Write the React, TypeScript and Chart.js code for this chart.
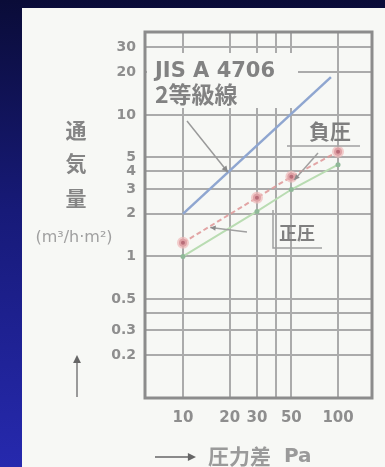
import React, { useEffect, useRef } from "react";
import { Chart, registerables } from "chart.js";

Chart.register(...registerables);

// Pressure difference (Pa) ticks and labels
const xTicks = [10, 20, 30, 40, 50, 100];
const xLabels = ["10", "20", "30", "", "50", "100"];
// Air flow rate ticks and labels
const yTicks = [0.2, 0.3, 0.4, 0.5, 1, 2, 3, 4, 5, 10, 20, 30];
const yLabels = ["0.2", "0.3", "", "0.5", "1", "2", "3", "4", "5", "10", "20", "30"];

// JIS A 4706 grade-2 line
const gradePressure = [10, 90];
const gradeFlow = [2, 18.5];
// Measured: negative pressure (負圧)
const negPressure = [10, 30, 50, 100];
const negFlow = [1.25, 2.6, 3.66, 5.5];
// Measured: positive pressure (正圧)
const posPressure = [10, 30, 50, 100];
const posFlow = [1.0, 2.08, 2.97, 4.45];

const PANEL = "#f7f8f5";
const GRID = "#ababab";
const TEXT = "#8e8e8e";

function arrowHead(ctx: CanvasRenderingContext2D, x1: number, y1: number, x2: number, y2: number, size: number) {
  const a = Math.atan2(y2 - y1, x2 - x1);
  ctx.beginPath();
  ctx.moveTo(x2, y2);
  ctx.lineTo(x2 - size * Math.cos(a - 0.45), y2 - size * Math.sin(a - 0.45));
  ctx.lineTo(x2 - size * Math.cos(a + 0.45), y2 - size * Math.sin(a + 0.45));
  ctx.closePath();
  ctx.fill();
}

const decor = {
  id: "decor",
  beforeDatasetsDraw(chart: any) {
    const ctx = chart.ctx as CanvasRenderingContext2D;
    ctx.save();
    ctx.fillStyle = PANEL;
    ctx.fillRect(147, 53, 151, 55);
    ctx.restore();
  },
  afterDatasetsDraw(chart: any) {
    const ctx = chart.ctx as CanvasRenderingContext2D;
    const xs = chart.scales.x;
    const ys = chart.scales.y;
    const { left, top, right, bottom } = chart.chartArea;
    ctx.save();
    // frame
    ctx.strokeStyle = "#8c8c8c";
    ctx.lineWidth = 3;
    ctx.strokeRect(left, top, right - left, bottom - top);

    // label box text
    ctx.fillStyle = "#828282";
    ctx.textBaseline = "alphabetic";
    ctx.textAlign = "left";
    ctx.font = "bold 21px 'DejaVu Sans', sans-serif";
    ctx.fillText("JIS A 4706", 155, 77);
    ctx.font = "bold 23px 'Noto Sans CJK JP', sans-serif";
    ctx.fillText("2等級線", 155, 103);

    // leader to grade line
    const lp = 19.5;
    const slope = Math.log(gradeFlow[1] / gradeFlow[0]) / Math.log(gradePressure[1] / gradePressure[0]);
    const lv = gradeFlow[0] * Math.pow(lp / gradePressure[0], slope);
    const ex = xs.getPixelForValue(lp);
    const ey = ys.getPixelForValue(lv);
    ctx.strokeStyle = "#9a9a9a";
    ctx.fillStyle = "#8a8a8a";
    ctx.lineWidth = 1.5;
    ctx.beginPath();
    ctx.moveTo(187, 121);
    ctx.lineTo(ex, ey);
    ctx.stroke();
    arrowHead(ctx, 187, 121, ex, ey, 7);

    // 負圧 label
    ctx.fillStyle = "#7f7f7f";
    ctx.font = "bold 21px 'Noto Sans CJK JP', sans-serif";
    ctx.textAlign = "center";
    ctx.textBaseline = "middle";
    ctx.fillText("負圧", 330, 131);
    ctx.strokeStyle = "#a0a0a0";
    ctx.beginPath();
    ctx.moveTo(287, 146);
    ctx.lineTo(360, 146);
    ctx.stroke();
    const nx = xs.getPixelForValue(45);
    const ny = ys.getPixelForValue(3.3);
    ctx.beginPath();
    ctx.moveTo(318, 153);
    ctx.lineTo(nx + 10, ny - 3);
    ctx.stroke();
    ctx.fillStyle = "#8a8a8a";
    arrowHead(ctx, 318, 153, nx + 10, ny - 3, 6);

    // 正圧 label
    ctx.fillStyle = "#7f7f7f";
    ctx.font = "bold 18px 'Noto Sans CJK JP', sans-serif";
    ctx.fillText("正圧", 297, 233);
    ctx.strokeStyle = "#a0a0a0";
    ctx.beginPath();
    ctx.moveTo(273, 210);
    ctx.lineTo(273, 248);
    ctx.lineTo(322, 248);
    ctx.stroke();
    const px = xs.getPixelForValue(15);
    const py = ys.getPixelForValue(1.6);
    ctx.beginPath();
    ctx.moveTo(247, 232);
    ctx.lineTo(px, py);
    ctx.stroke();
    ctx.fillStyle = "#8a8a8a";
    arrowHead(ctx, 247, 232, px, py, 6);

    // y title (vertical)
    ctx.fillStyle = "#858585";
    ctx.font = "bold 21px 'Noto Sans CJK JP', sans-serif";
    ctx.textAlign = "center";
    ctx.fillText("通", 76, 130);
    ctx.fillText("気", 76, 163);
    ctx.fillText("量", 76, 198);
    ctx.font = "16px 'DejaVu Sans', sans-serif";
    ctx.fillStyle = "#a0a0a0";
    ctx.fillText("(m³/h·m²)", 74, 238);
    // up arrow
    ctx.strokeStyle = "#9a9a9a";
    ctx.lineWidth = 2;
    ctx.beginPath();
    ctx.moveTo(77, 397);
    ctx.lineTo(77, 360);
    ctx.stroke();
    ctx.fillStyle = "#666";
    arrowHead(ctx, 77, 397, 77, 355, 9);

    // x title
    ctx.strokeStyle = "#8a8a8a";
    ctx.beginPath();
    ctx.moveTo(155, 457);
    ctx.lineTo(188, 457);
    ctx.stroke();
    arrowHead(ctx, 155, 457, 196, 457, 9);
    ctx.fillStyle = "#9a9a9a";
    ctx.textAlign = "left";
    ctx.font = "bold 21px 'Noto Sans CJK JP', sans-serif";
    ctx.fillText("圧力差", 208, 456);
    ctx.font = "bold 20px 'DejaVu Sans', sans-serif";
    ctx.fillText("Pa", 284, 457);
    ctx.restore();
  },
};

export default function App() {
  const ref = useRef<HTMLCanvasElement | null>(null);
  useEffect(() => {
    if (!ref.current) return;
    const toPts = (xs: number[], ys: number[]) => xs.map((x, i) => ({ x, y: ys[i] }));
    const chart = new Chart(ref.current, {
      type: "line",
      data: {
        datasets: [
          {
            label: "JIS A 4706 2等級線",
            data: toPts(gradePressure, gradeFlow),
            borderColor: "#8fa6d0",
            borderWidth: 2.5,
            pointRadius: 0,
          },
          {
            label: "負圧",
            data: toPts(negPressure, negFlow),
            borderColor: "rgba(222,150,150,0.85)",
            borderDash: [5, 3],
            borderWidth: 2,
            pointRadius: 4,
            pointBackgroundColor: "#b86c78",
            pointBorderColor: "rgba(240,185,185,0.7)",
            pointBorderWidth: 4,
          },
          {
            label: "正圧",
            data: toPts(posPressure, posFlow),
            borderColor: "#b9dcb2",
            borderWidth: 2,
            pointRadius: 2.5,
            pointBackgroundColor: "#8fb898",
            pointBorderWidth: 0,
          },
        ],
      },
      options: {
        responsive: false,
        animation: false,
        devicePixelRatio: 1,
        layout: { padding: { left: 0, right: 13, top: 32, bottom: 0 } },
        plugins: { legend: { display: false }, tooltip: { enabled: false }, title: { display: false } },
        scales: {
          x: {
            type: "logarithmic",
            min: 5.69,
            max: 165.6,
            afterBuildTicks: (s: any) => {
              s.ticks = xTicks.map((v) => ({ value: v }));
            },
            afterFit: (s: any) => {
              s.height = 69;
            },
            grid: { color: GRID, lineWidth: 2, drawTicks: false },
            border: { display: false },
            ticks: {
              autoSkip: false,
              maxRotation: 0,
              padding: 11,
              color: TEXT,
              font: { size: 15, weight: "bold", family: "'DejaVu Sans', sans-serif" },
              callback: (_v: any, i: number) => xLabels[i],
            },
          },
          y: {
            type: "logarithmic",
            min: 0.1,
            max: 38.5,
            afterBuildTicks: (s: any) => {
              s.ticks = yTicks.map((v) => ({ value: v }));
            },
            afterFit: (s: any) => {
              s.width = 145;
            },
            grid: { color: GRID, lineWidth: 2, drawTicks: false },
            border: { display: false },
            ticks: {
              autoSkip: false,
              padding: 9,
              color: TEXT,
              font: { size: 14, weight: "bold", family: "'DejaVu Sans', sans-serif" },
              callback: (_v: any, i: number) => yLabels[i],
            },
          },
        },
      },
      plugins: [decor],
    } as any);
    return () => chart.destroy();
  }, []);

  return (
    <div
      style={{
        position: "fixed",
        left: 0,
        top: 0,
        width: 385,
        height: 467,
        overflow: "hidden",
        background: "linear-gradient(to bottom, #0a0c38 0%, #171a78 45%, #2629ae 100%)",
      }}
    >
      <div style={{ position: "absolute", left: 22, top: 8, width: 363, height: 459, background: PANEL }} />
      <canvas ref={ref} width={385} height={467} style={{ position: "absolute", left: 0, top: 0, width: 385, height: 467 }} />
    </div>
  );
}
